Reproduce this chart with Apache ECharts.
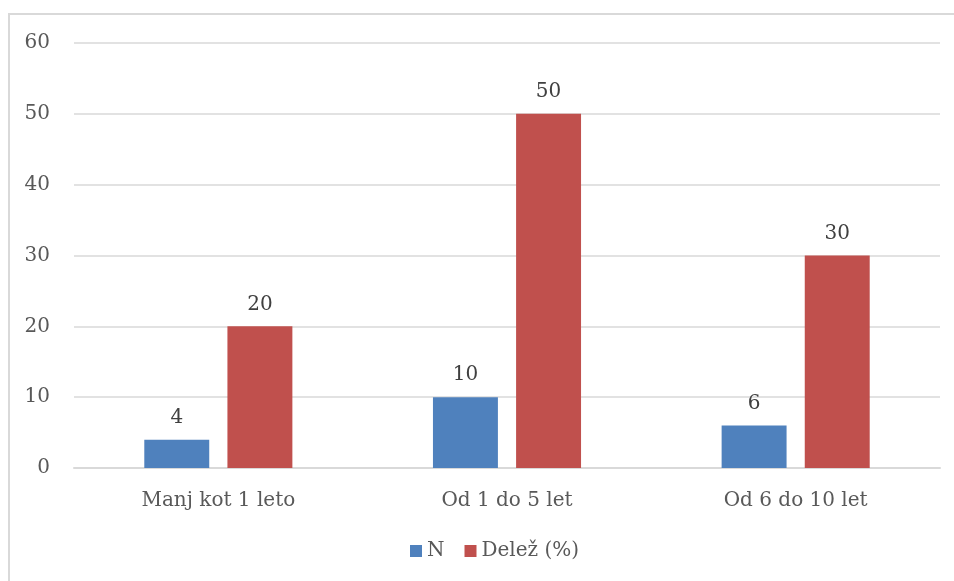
<!DOCTYPE html>
<html><head><meta charset="utf-8">
<script src="https://cdn.jsdelivr.net/npm/echarts@6/dist/echarts.min.js"></script>
<style>html,body{margin:0;padding:0;background:#fff;overflow:hidden;}#c{position:absolute;left:0;top:0;width:954px;height:581px;}</style>
</head><body>
<div id="c"></div>
<script>
const categories = ['Manj kot 1 leto', 'Od 1 do 5 let', 'Od 6 do 10 let'];
const seriesN = [4, 10, 6];
const seriesDelez = [20, 50, 30];
const seriesNames = ['N', 'Delež (%)'];
const yTicks = [0, 10, 20, 30, 40, 50, 60];

const font = 'DejaVu Serif';
const chart = echarts.init(document.getElementById('c'), null, {renderer: 'canvas'});
chart.setOption({
  animation: false,
  textStyle: {fontFamily: font},
  graphic: [{type: 'rect', silent: true, z: -10,
    shape: {x: 9, y: 14, width: 1000, height: 600},
    style: {fill: 'none', stroke: '#d9d9d9', lineWidth: 2}}],
  grid: {left: 74, right: 14, top: 43, bottom: 113},
  legend: {
    data: seriesNames, bottom: 15, left: 405,
    itemWidth: 12, itemHeight: 12, itemGap: 20,
    icon: 'rect',
    textStyle: {fontFamily: font, fontSize: 20, color: '#595959'}
  },
  xAxis: {
    type: 'category', data: categories,
    axisLine: {lineStyle: {color: '#d9d9d9', width: 2}},
    axisTick: {show: false},
    axisLabel: {fontFamily: font, fontSize: 20, color: '#595959', margin: 23}
  },
  yAxis: {
    type: 'value', min: 0, max: 60, interval: 10,
    axisLine: {show: false}, axisTick: {show: false},
    axisLabel: {fontFamily: font, fontSize: 20, color: '#595959', margin: 24,
      formatter: v => yTicks.includes(v) ? String(v) : ''},
    splitLine: {lineStyle: {color: '#d9d9d9', width: 1.5}}
  },
  series: [
    {name: seriesNames[0], type: 'bar', data: seriesN, barWidth: '22.5%', barGap: '28%',
      itemStyle: {color: '#4f81bd'},
      label: {show: true, position: 'top', distance: 12, fontFamily: font, fontSize: 20, color: '#404040'}},
    {name: seriesNames[1], type: 'bar', data: seriesDelez, barWidth: '22.5%',
      itemStyle: {color: '#c0504d'},
      label: {show: true, position: 'top', distance: 12, fontFamily: font, fontSize: 20, color: '#404040'}}
  ]
});
</script>
</body></html>
